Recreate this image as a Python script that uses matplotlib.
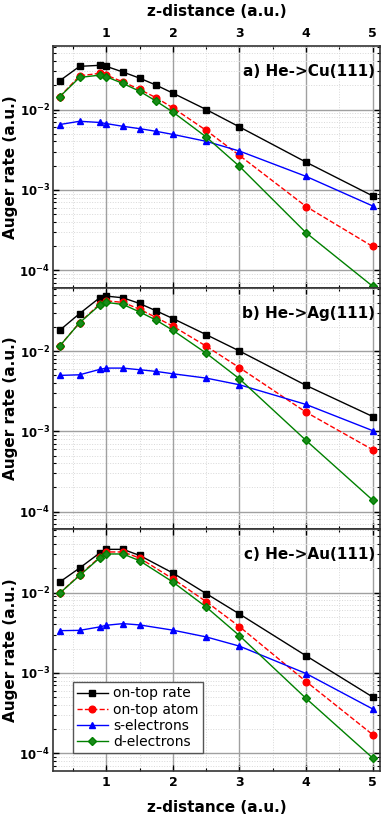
import matplotlib
matplotlib.use("Agg")
import matplotlib.pyplot as plt
import matplotlib.ticker as mticker
import numpy as np

# z-distance grids
z_ab = [0.3, 0.6, 0.9, 1.0, 1.25, 1.5, 1.75, 2.0, 2.5, 3.0, 4.0, 5.0]
z_c = [0.3, 0.6, 0.9, 1.0, 1.25, 1.5, 2.0, 2.5, 3.0, 4.0, 5.0]

# a) He->Cu(111)
cu_ontop_rate = [0.0228, 0.0345, 0.0355, 0.0345, 0.0293, 0.0246, 0.0201, 0.016, 0.01, 0.00607, 0.00221, 0.00084]
cu_ontop_atom = [0.0144, 0.0263, 0.0282, 0.0268, 0.0221, 0.0178, 0.014, 0.0105, 0.0055, 0.00268, 0.00062, 0.000197]
cu_s = [0.0065, 0.00714, 0.0069, 0.00668, 0.00618, 0.00578, 0.00535, 0.0049, 0.00402, 0.00304, 0.00147, 0.00063]
cu_d = [0.0144, 0.0251, 0.0268, 0.0256, 0.0211, 0.0169, 0.0127, 0.0093, 0.00455, 0.00196, 0.000292, 0.000063]

# b) He->Ag(111)
ag_ontop_rate = [0.0181, 0.0293, 0.046, 0.0483, 0.046, 0.0391, 0.0316, 0.0254, 0.016, 0.01, 0.00373, 0.00153]
ag_ontop_atom = [0.01155, 0.0226, 0.0384, 0.0422, 0.0403, 0.0332, 0.0261, 0.0204, 0.0115, 0.0062, 0.00173, 0.00059]
ag_s = [0.00497, 0.00506, 0.0059, 0.00613, 0.00613, 0.00585, 0.00557, 0.00521, 0.0046, 0.0038, 0.00216, 0.00102]
ag_d = [0.0115, 0.0225, 0.0373, 0.0403, 0.038, 0.0307, 0.0242, 0.0181, 0.0094, 0.0045, 0.00077, 0.000139]

# c) He->Au(111)
au_ontop_rate = [0.0135, 0.0202, 0.031, 0.0345, 0.0345, 0.029, 0.0175, 0.0097, 0.0054, 0.00163, 0.0005]
au_ontop_atom = [0.0098, 0.0166, 0.0274, 0.032, 0.032, 0.0269, 0.0148, 0.0077, 0.00376, 0.00078, 0.00017]
au_s = [0.00335, 0.00338, 0.00373, 0.00391, 0.0041, 0.00395, 0.0034, 0.0028, 0.00215, 0.00098, 0.000355]
au_d = [0.0098, 0.0163, 0.0269, 0.0302, 0.0302, 0.0249, 0.0135, 0.0066, 0.0029, 0.00048, 0.000087]

panel_titles = ['a) He->Cu(111)', 'b) He->Ag(111)', 'c) He->Au(111)']
series_labels = ['on-top rate', 'on-top atom', 's-electrons', 'd-electrons']

panels = [
    (z_ab, [cu_ontop_rate, cu_ontop_atom, cu_s, cu_d]),
    (z_ab, [ag_ontop_rate, ag_ontop_atom, ag_s, ag_d]),
    (z_c, [au_ontop_rate, au_ontop_atom, au_s, au_d]),
]

styles = [
    dict(color='black', marker='s', ls='-', ms=4.2),
    dict(color='red', marker='o', ls='--', ms=4.8),
    dict(color='blue', marker='^', ls='-', ms=4.8),
    dict(color='green', marker='D', ls='-', ms=4.2, mfc='#1a8a1a', mec='green'),
]


def log_fmt(v, pos):
    return r'$\mathbf{10^{%d}}$' % int(round(np.log10(v)))


fig = plt.figure(figsize=(3.82, 8.15), dpi=100)
left, width = 53 / 382, 327 / 382
panel_h = 241.5 / 815
top = 1 - 46 / 815

axes = []
for i, (z, series) in enumerate(panels):
    ax = fig.add_axes([left, top - (i + 1) * panel_h, width, panel_h])
    axes.append(ax)
    for vals, lab, st in zip(series, series_labels, styles):
        ax.plot(z, vals, label=lab, lw=1.0, **st)

    ax.set_yscale('log')
    ax.set_xlim(0.2, 5.11)
    ax.set_ylim(6.08e-5, 0.0618)

    ax.xaxis.set_major_locator(mticker.MultipleLocator(1))
    ax.xaxis.set_minor_locator(mticker.MultipleLocator(0.5))
    ax.yaxis.set_major_locator(mticker.LogLocator(base=10, numticks=10))
    ax.yaxis.set_minor_locator(mticker.LogLocator(base=10, subs=np.arange(2, 10), numticks=10))
    ax.yaxis.set_major_formatter(mticker.FuncFormatter(log_fmt))
    ax.yaxis.set_minor_formatter(mticker.NullFormatter())

    ax.grid(True, which='major', color='#a0a0a0', lw=1.0, ls='-')
    ax.grid(True, which='minor', color='#d8d8d8', lw=0.7, ls=':')
    ax.set_axisbelow(True)

    ax.tick_params(which='both', direction='in', top=True, right=True)
    ax.tick_params(which='major', length=4, width=1)
    ax.tick_params(which='minor', length=2.5, width=0.8)
    ax.tick_params(axis='y', labelsize=8.5, pad=2)
    ax.tick_params(axis='x', labelsize=9, pad=4)
    for sp in ax.spines.values():
        sp.set_linewidth(1.2)
        sp.set_color('#333333')

    ax.set_ylabel('Auger rate (a.u.)', fontsize=11, fontweight='bold')
    ax.yaxis.set_label_coords(-0.107, 0.5)
    ax.text(0.985, 0.893, panel_titles[i], transform=ax.transAxes, ha='right', va='center',
            fontsize=11, fontweight='bold')

    if i == 0:
        ax.tick_params(labeltop=True, labelbottom=False)
        ax.xaxis.set_label_position('top')
        ax.set_xlabel('z-distance (a.u.)', fontsize=11, fontweight='bold', labelpad=8)
    elif i == 1:
        ax.tick_params(labelbottom=False)
    else:
        ax.set_xlabel('z-distance (a.u.)', fontsize=11, fontweight='bold', labelpad=8)
    for lbl in ax.get_xticklabels():
        lbl.set_fontweight('bold')

leg = axes[2].legend(loc='lower left', bbox_to_anchor=(0.061, 0.073), borderaxespad=0,
                     fontsize=10, fancybox=False, framealpha=1, edgecolor='#555555',
                     handlelength=2.2, borderpad=0.3, labelspacing=0.15, handletextpad=0.4)
leg.get_frame().set_linewidth(1.0)

fig.savefig('out.png', dpi=100)
